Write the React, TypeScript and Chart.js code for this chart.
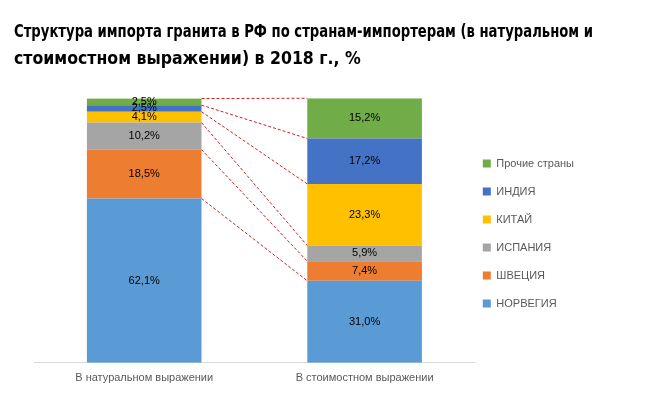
import React, { useEffect, useRef } from "react";
import { Chart, registerables } from "chart.js";

Chart.register(...registerables);

const categories = ["В натуральном выражении", "В стоимостном выражении"];
const seriesNames = ["НОРВЕГИЯ", "ШВЕЦИЯ", "ИСПАНИЯ", "КИТАЙ", "ИНДИЯ", "Прочие страны"];
const norway = [62.1, 31.0];
const sweden = [18.5, 7.4];
const spain = [10.2, 5.9];
const china = [4.1, 23.3];
const india = [2.5, 17.2];
const others = [2.5, 15.2];
const seriesColors = ["#5b9bd5", "#ed7d31", "#a5a5a5", "#ffc000", "#4472c4", "#70ad47"];
const titleLines = [
  "Структура импорта гранита в РФ по странам-импортерам (в натуральном и",
  "стоимостном выражении) в 2018 г., %",
];

const FONT = "'Liberation Sans', 'DejaVu Sans', sans-serif";

const seriesLinesPlugin = {
  id: "seriesLines",
  afterDatasetsDraw(chart: any) {
    const ctx = chart.ctx;
    ctx.save();
    ctx.strokeStyle = "#cc2222";
    ctx.lineWidth = 1;
    ctx.setLineDash([3, 2]);
    chart.data.datasets.forEach((_: any, d: number) => {
      const meta = chart.getDatasetMeta(d);
      const a = meta.data[0] as any;
      const b = meta.data[1] as any;
      if (!a || !b) return;
      ctx.beginPath();
      ctx.moveTo(a.x + a.width / 2, a.y);
      ctx.lineTo(b.x - b.width / 2, b.y);
      ctx.stroke();
    });
    ctx.restore();
  },
};

const dataLabelsPlugin = {
  id: "dataLabelsCustom",
  afterDatasetsDraw(chart: any) {
    const ctx = chart.ctx;
    ctx.save();
    ctx.font = `11px ${FONT}`;
    ctx.fillStyle = "#000000";
    ctx.textAlign = "center";
    ctx.textBaseline = "middle";
    chart.data.datasets.forEach((ds: any, d: number) => {
      const meta = chart.getDatasetMeta(d);
      meta.data.forEach((el: any, i: number) => {
        const v = ds.data[i] as number;
        const txt = v.toFixed(1).replace(".", ",") + "%";
        ctx.fillText(txt, el.x, (el.y + el.base) / 2);
      });
    });
    ctx.restore();
  },
};

const legendShiftPlugin = {
  id: "legendShift",
  afterLayout(chart: any) {
    const l = chart.legend;
    if (!l) return;
    l.left -= 9;
    l.right -= 9;
    l.top += 3;
    l.bottom += 3;
  },
};

export default function App() {
  const ref = useRef<HTMLCanvasElement>(null);
  useEffect(() => {
    if (!ref.current) return;
    const values = [norway, sweden, spain, china, india, others];
    const chart = new Chart(ref.current, {
      type: "bar",
      data: {
        labels: categories,
        datasets: seriesNames.map((name, i) => ({
          label: name,
          data: values[i],
          backgroundColor: seriesColors[i],
          borderWidth: 0,
          barPercentage: 0.52,
          categoryPercentage: 1,
        })),
      },
      options: {
        responsive: false,
        animation: false,
        layout: { padding: { left: 14, right: 57, top: 0, bottom: 1 } },
        scales: {
          x: {
            stacked: true,
            grid: { display: false, drawTicks: false },
            border: { display: true, color: "#d9d9d9" },
            ticks: { color: "#595959", font: { family: FONT, size: 11 }, padding: 9 },
          },
          y: {
            stacked: true,
            min: 0,
            max: 100,
            display: true,
            grid: { display: false, drawTicks: false },
            border: { display: false },
            ticks: { display: false },
            afterFit: (s: any) => {
              s.width = 20;
            },
          },
        },
        plugins: {
          title: {
            display: true,
            text: titleLines,
            align: "start",
            color: "#000000",
            font: { family: "'Liberation Sans Narrow', 'DejaVu Sans Condensed', sans-serif", size: 17.5, weight: "bold", lineHeight: 1.55 },
            padding: { top: 19, bottom: 25 },
          },
          legend: {
            position: "right",
            fullSize: false,
            reverse: true,
            labels: {
              boxWidth: 8,
              boxHeight: 8,
              padding: 17,
              color: "#595959",
              font: { family: FONT, size: 11 },
            },
          },
          tooltip: { enabled: false },
        },
      },
      plugins: [seriesLinesPlugin, dataLabelsPlugin, legendShiftPlugin],
    } as any);
    return () => chart.destroy();
  }, []);
  return (
    <div style={{ position: "absolute", left: 0, top: 0, width: 650, height: 395, background: "#fff" }}>
      <canvas ref={ref} width={650} height={395} />
    </div>
  );
}
